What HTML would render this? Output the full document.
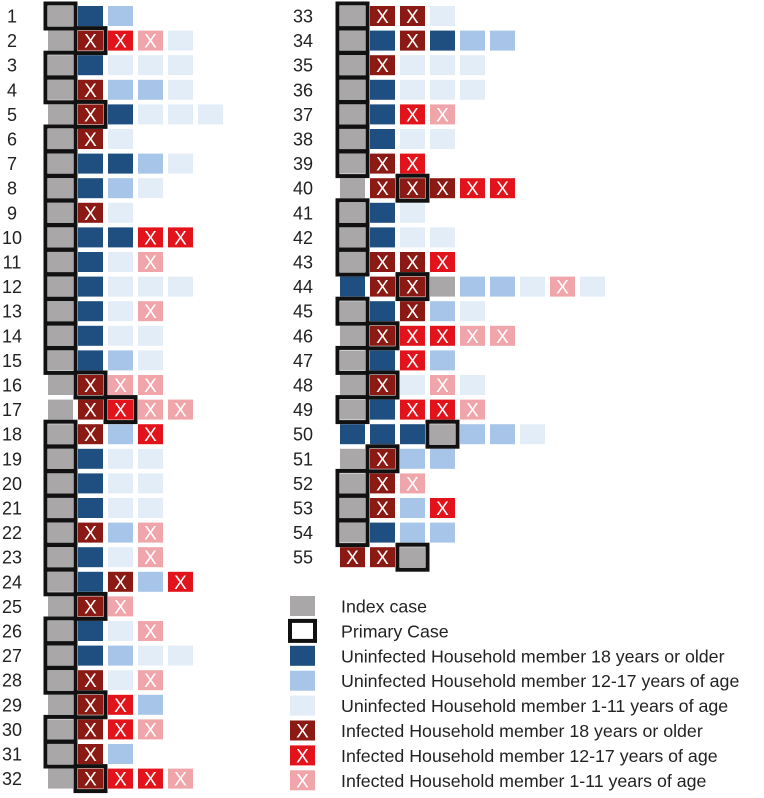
<!DOCTYPE html>
<html><head><meta charset="utf-8">
<style>
html,body{margin:0;padding:0;background:#fff;}
svg{display:block;font-family:"Liberation Sans",Arial,sans-serif;}
</style></head>
<body>
<svg id="chart" width="764" height="798" viewBox="0 0 764 798"></svg>
<script>
// Household numbers
const households = [];
for (let i = 1; i <= 55; i++) households.push(i);
// Member codes per household: G=index, D=uninf 18+, M=uninf 12-17, L=uninf 1-11, R=inf 18+, r=inf 12-17, p=inf 1-11
const members = [
"GDM","GRrpL","GDLLL","GRMML","GRDLLL","GRL","GDDML","GDML","GRL","GDDrr",
"GDLp","GDLLL","GDLp","GDLL","GDML","GRpp","GRrpp","GRMr","GDLL","GDLL",
"GDLL","GRMp","GDLp","GDRMr","GRp","GDLp","GDMLL","GRLp","GRrM","GRrp",
"GRM","GRrrp",
"GRRL","GDRDMM","GRLLL","GDLLL","GDrp","GDLL","GRr","GRRRrr","GDL","GDLL",
"GRRr","DRRGMMLpL","GDRML","GRrrpp","GDrM","GRLpL","GDrrp","DDDGMML","GRMM","GRp",
"GRMr","GDMM","RRG"
];
// Position of the primary case within each household
const primaryIndex = [
0,1,0,0,1,0,0,0,0,0, 0,0,0,0,0,1,2,0,0,0, 0,0,0,0,1,0,0,0,1,0, 0,1,
0,0,0,0,0,0,0,2,0,0, 0,2,0,1,0,1,0,3,1,0, 0,0,2
];
const legendLabels = ["Index case","Primary Case","Uninfected Household member 18 years or older","Uninfected Household member 12-17 years of age","Uninfected Household member 1-11 years of age","Infected Household member 18 years or older","Infected Household member 12-17 years of age","Infected Household member 1-11 years of age"];
const legendCodes = ["G","P","D","M","L","R","r","p"];

const colors = {G:"#a9a7a8",D:"#1f4e80",M:"#a6c5e8",L:"#e3edf8",R:"#8b1a14",r:"#e3131b",p:"#f0a5ab"};
const infected = {R:1,r:1,p:1};
const NS = "http://www.w3.org/2000/svg";
const svg = document.getElementById("chart");
function mk(tag, attrs){const e=document.createElementNS(NS,tag);for(const k in attrs)e.setAttribute(k,attrs[k]);return e;}

const pitchY = 24.6, cw = 25, ch = 20, pitchX = 30;
function rowY(i){ const r = i < 32 ? i : i - 32; return 16 + r * pitchY; }
function colX(i, j){ return (i < 32 ? 48 : 340) + j * pitchX; }
function numX(i){ return i < 32 ? 12 : 303; }

const prim = [];
households.forEach((h, i) => {
  const g = mk("g", {});
  
  
  const y = rowY(i);
  const t = mk("text", {x: numX(i), y: y + 6.5, "text-anchor": "middle", "font-size": "18", fill: "#222"});
  t.textContent = h;
  
  
  g.appendChild(t);
  const codes = members[i];
  for (let j = 0; j < codes.length; j++) {
    const c = codes[j];
    const x = colX(i, j);
    const r = mk("rect", {x: x, y: y - ch/2, width: cw, height: ch, fill: colors[c]});
    
    
    g.appendChild(r);
    if (infected[c]) {
      const tx = mk("text", {x: x + cw/2, y: y + 7, "text-anchor": "middle", "font-size": "19", fill: "#fff"});
      tx.textContent = "X";
      
      
      g.appendChild(tx);
    }
  }
  svg.appendChild(g);
  const px = colX(i, primaryIndex[i]);
  prim.push([px, y]);
});
prim.forEach(([x, y]) => {
  const b = mk("rect", {x: x - 2.5, y: y - ch/2 - 2.5, width: cw + 5, height: ch + 5, fill: "none", stroke: "#111", "stroke-width": "4"});
  
  
  svg.appendChild(b);
});

// Legend
legendLabels.forEach((lab, k) => {
  const g = mk("g", {});
  
  
  const y = 606 + k * 24.9;
  const c = legendCodes[k];
  if (c === "P") {
    const b = mk("rect", {x: 290, y: y - 10, width: 25, height: 20, fill: "#fff", stroke: "#111", "stroke-width": "4"});
    g.appendChild(b);
  } else {
    g.appendChild(mk("rect", {x: 290, y: y - 10, width: 25, height: 20, fill: colors[c]}));
    if (infected[c]) {
      const tx = mk("text", {x: 302.5, y: y + 7, "text-anchor": "middle", "font-size": "19", fill: "#fff"});
      tx.textContent = "X";
      g.appendChild(tx);
    }
  }
  const t = mk("text", {x: 341, y: y + 6.5, "font-size": "17.8", fill: "#222"});
  t.textContent = lab;
  g.appendChild(t);
  svg.appendChild(g);
});
</script>
</body></html>
